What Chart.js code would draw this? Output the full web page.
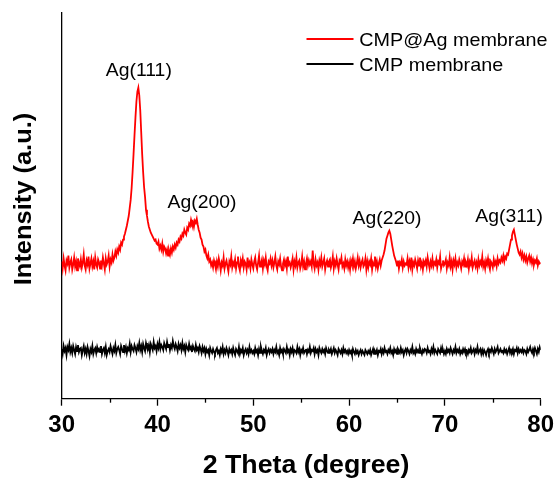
<!DOCTYPE html>
<html>
<head>
<meta charset="utf-8">
<script src="https://cdn.jsdelivr.net/npm/chart.js@4/dist/chart.umd.min.js"></script>
<style>
html,body{margin:0;padding:0;background:#fff;}
#wrap{width:556px;height:478px;position:relative;}
</style>
</head>
<body>
<div id="wrap"><canvas id="c" width="556" height="478"></canvas></div>
<script>
// ---- data ----
const thetaStart = 30, thetaStep = 0.1;           // 2θ sampling of the series below
const seriesNames = ["CMP@Ag membrane", "CMP membrane"];
const xTicks = [30, 40, 50, 60, 70, 80];
const peakLabels = ["Ag(111)", "Ag(200)", "Ag(220)", "Ag(311)"];
const peakTheta = [38.05, 44.65, 63.95, 76.7];

// CMP@Ag membrane intensity (arb. units), 30.0 .. 80.0 step 0.1, 20 values per row (2° per row)
const cmpAg = [
  138,131,141,134,129,139,136,144,132,137,140,130,135,142,133,138,129,141,136,133,
  140,132,137,145,134,130,139,135,143,131,136,141,133,138,130,142,135,132,140,137,
  131,139,134,142,136,130,141,135,138,144,133,140,137,145,139,142,148,144,150,147,
  153,150,157,155,160,163,166,170,174,179,184,192,200,212,228,246,265,283,299,309,
  313,305,290,268,246,228,213,203,190,184,178,173,170,167,165,163,161,159,160,156,
  155,158,151,154,150,156,148,153,151,146,150,144,149,145,151,147,153,150,155,152,
  157,155,160,158,163,161,166,164,170,167,165,172,170,176,174,180,176,178,173,179,
  177,181,175,170,167,162,160,155,153,148,150,144,141,145,138,140,134,137,132,139,
  135,130,138,133,141,136,129,137,134,142,131,136,139,133,128,138,135,143,132,137,
  134,140,131,137,143,133,129,139,135,141,132,138,136,130,142,134,137,131,140,135,
  131,138,142,134,130,137,144,133,136,140,131,139,135,142,133,129,138,136,141,134,
  139,132,137,143,134,130,138,135,141,133,129,136,140,134,138,131,143,135,137,132,
  136,141,130,138,134,142,132,137,139,131,135,143,133,138,130,136,141,134,139,135,
  138,133,149,136,131,140,134,137,130,139,135,142,133,137,141,130,136,139,133,138,
  140,132,136,143,131,138,134,141,135,130,139,137,142,133,136,131,140,134,138,132,
  137,130,139,135,141,133,138,131,136,142,134,139,132,137,140,133,135,141,130,138,
  132,138,135,141,130,137,134,143,133,138,131,136,140,134,139,142,145,149,155,161,
  164,167,169,166,160,154,149,144,141,138,134,139,131,137,135,140,132,138,134,136,
  135,141,132,138,133,142,130,137,134,140,136,131,139,134,142,133,137,130,138,135,
  139,133,142,136,131,138,134,141,133,137,135,140,132,138,136,143,131,135,139,134,
  136,140,131,137,134,142,133,138,130,139,135,141,132,137,134,140,136,131,138,135,
  141,133,137,134,140,131,138,135,142,132,136,139,133,137,131,140,134,138,135,143,
  133,137,131,139,135,141,134,130,138,136,132,140,135,138,133,141,136,139,137,142,
  139,144,138,143,141,146,145,150,155,160,164,168,170,165,160,155,151,147,145,148,
  142,146,140,144,139,143,137,141,144,138,142,136,140,135,139,137,141,134,138,136,
  137
];
// CMP membrane intensity (arb. units), same 2θ sampling
const cmp = [
  50,45,53,48,51,44,52,49,55,47,51,46,53,49,45,52,48,54,47,50,
  51,44,49,53,46,50,45,52,48,43,50,47,53,45,49,51,46,52,48,50,
  47,53,45,49,51,46,52,44,48,50,47,53,49,45,51,48,54,46,50,52,
  49,45,53,50,47,54,48,52,46,51,49,55,47,53,50,48,54,51,47,53,
  50,56,49,53,47,55,51,48,56,52,50,54,47,55,52,49,57,51,53,48,
  55,51,57,50,54,52,49,56,53,50,57,52,55,49,54,51,58,53,50,55,
  52,48,55,51,54,49,56,50,53,47,54,51,49,55,50,52,47,53,50,48,
  54,49,51,47,53,50,46,52,48,51,45,50,47,49,44,51,48,46,50,47,
  45,49,51,46,48,44,50,47,52,45,49,46,51,48,44,50,47,49,45,51,
  47,44,50,48,46,52,45,49,47,51,44,48,50,46,49,45,52,47,49,46,
  48,45,51,47,49,44,50,46,52,48,45,49,47,51,44,48,50,46,49,47,
  50,45,49,47,52,46,48,44,51,47,49,45,50,48,46,52,47,49,44,50,
  47,51,45,49,48,46,52,47,50,44,49,47,51,46,48,50,45,49,47,52,
  46,49,48,51,45,50,47,49,44,51,48,46,50,47,49,45,51,48,46,49,
  47,50,45,48,51,46,49,47,44,50,48,46,49,45,51,47,49,46,48,45,
  49,46,48,44,50,47,45,49,46,48,44,47,49,45,48,46,44,49,47,45,
  48,46,49,44,47,50,45,48,46,49,44,48,47,50,45,49,46,51,47,48,
  45,49,47,51,46,48,44,50,47,49,45,50,48,46,51,47,49,44,48,50,
  46,50,48,45,49,47,52,46,48,45,50,47,49,46,51,48,45,49,47,50,
  49,46,51,47,48,45,50,47,52,46,49,47,45,50,48,46,51,47,49,45,
  48,45,50,47,49,46,51,48,45,49,47,52,46,49,47,50,45,48,46,50,
  47,50,46,48,45,49,47,51,46,48,50,45,49,47,52,46,48,50,45,49,
  45,49,47,44,48,50,46,49,47,51,48,45,50,47,49,52,46,48,50,47,
  48,46,50,47,49,45,48,51,46,49,47,50,45,49,48,51,46,50,47,49,
  47,50,46,49,48,45,50,47,49,52,48,46,50,47,51,48,45,50,47,52,
  49
];

// ---- build points ----
const toPts = arr => arr.map((v, i) => ({x: +(thetaStart + i * thetaStep).toFixed(2), y: v}));

const FONT = '"Liberation Sans", Arial, Helvetica, sans-serif';

function stretchedText(ctx, text, cx, cy, size, weight, sx, rot, align) {
  ctx.save();
  ctx.translate(cx, cy);
  if (rot) ctx.rotate(rot);
  ctx.scale(sx, 1);
  ctx.font = weight + ' ' + size + 'px ' + FONT;
  ctx.fillStyle = '#000';
  ctx.textAlign = align || 'center';
  ctx.textBaseline = 'alphabetic';
  ctx.fillText(text, 0, size * 0.358);
  ctx.restore();
}

const decor = {
  id: 'decor',
  afterDraw(chart) {
    const ctx = chart.ctx, xs = chart.scales.x, ys = chart.scales.y;
    const bottom = chart.chartArea.bottom;
    // minor ticks
    ctx.save();
    ctx.strokeStyle = '#000';
    ctx.lineWidth = 1.3;
    for (let v = 35; v < 80; v += 10) {
      const px = Math.round(xs.getPixelForValue(v)) + 0.5;
      ctx.beginPath(); ctx.moveTo(px, bottom); ctx.lineTo(px, bottom + 4); ctx.stroke();
    }
    ctx.restore();
    // peak labels
    const labelY = [331, 198.5, 183, 185];
    peakLabels.forEach((t, i) => {
      stretchedText(ctx, t, xs.getPixelForValue(peakTheta[i]), ys.getPixelForValue(labelY[i]), 19, 'normal', 1.02);
    });
    // axis titles
    stretchedText(ctx, '2 Theta (degree)', 306, 464, 25, 'bold', 1.07);
    stretchedText(ctx, 'Intensity (a.u.)', 22, 199, 24, 'bold', 1.06, -Math.PI / 2);
    // legend
    const colors = ['#ff0000', '#000000'];
    const ly = [39, 64];
    seriesNames.forEach((n, i) => {
      ctx.save();
      ctx.strokeStyle = colors[i];
      ctx.lineWidth = 2;
      ctx.beginPath(); ctx.moveTo(306.5, ly[i]); ctx.lineTo(353.5, ly[i]); ctx.stroke();
      ctx.restore();
      stretchedText(ctx, n, 359.3, ly[i], 19, 'normal', 1.04, 0, 'left');
    });
  }
};

new Chart(document.getElementById('c'), {
  type: 'line',
  data: {
    datasets: [
      {label: seriesNames[0], data: toPts(cmpAg), borderColor: '#ff0000', borderWidth: 1.8, pointRadius: 0, tension: 0, fill: false},
      {label: seriesNames[1], data: toPts(cmp), borderColor: '#000000', borderWidth: 1.8, pointRadius: 0, tension: 0, fill: false}
    ]
  },
  options: {
    responsive: false,
    animation: false,
    devicePixelRatio: 1,
    layout: {padding: {left: 61.7, top: 13, right: 15.3, bottom: 33.5}},
    plugins: {legend: {display: false}, tooltip: {enabled: false}},
    scales: {
      x: {
        type: 'linear', min: 30, max: 80,
        afterBuildTicks: s => { s.ticks = xTicks.map(v => ({value: v})); },
        afterFit: s => { s.paddingRight = 0; s.paddingLeft = 0; },
        ticks: {color: '#000', padding: 5, font: {family: FONT, size: 24, weight: 'bold'}, maxRotation: 0},
        grid: {display: true, drawOnChartArea: false, drawTicks: true, tickLength: 7, tickColor: '#000', tickWidth: 1.3},
        border: {display: true, color: '#000', width: 1.3}
      },
      y: {
        min: 0, max: 388,
        ticks: {display: false},
        grid: {display: false, drawTicks: false},
        border: {display: true, color: '#000', width: 1.3}
      }
    }
  },
  plugins: [decor]
});
</script>
</body>
</html>
